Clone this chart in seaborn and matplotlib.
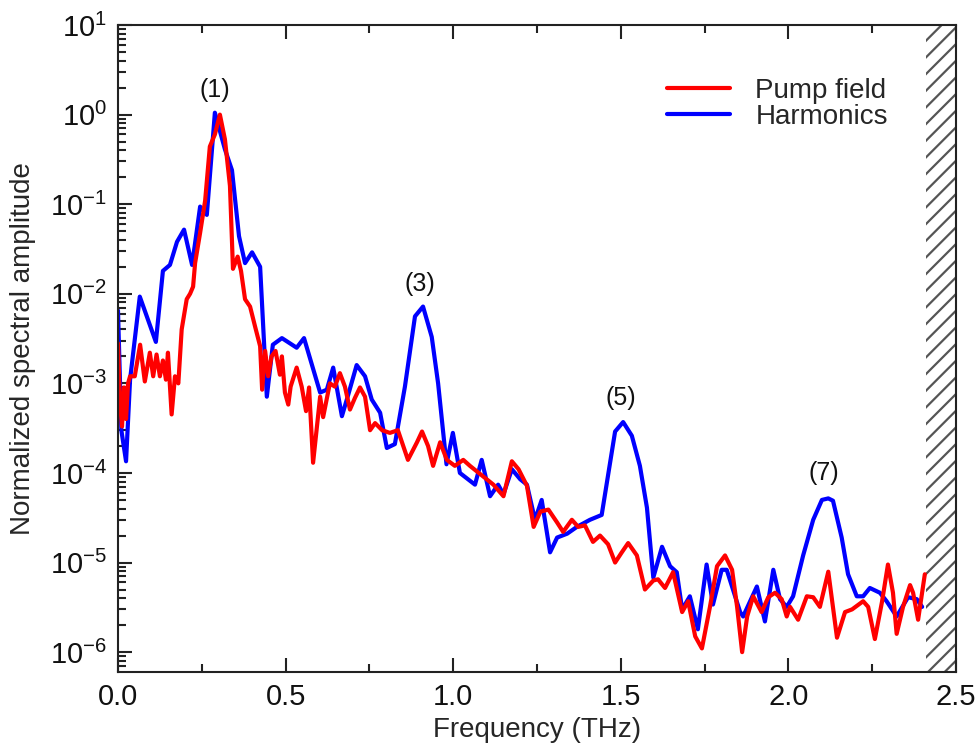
import matplotlib
matplotlib.use("Agg")
import matplotlib.pyplot as plt
import seaborn as sns
import pandas as pd
import numpy as np
from matplotlib.ticker import MultipleLocator, NullFormatter, FixedLocator
from matplotlib.lines import Line2D

# ---- data ----
harm_freq = [0.0, 0.01, 0.024, 0.036, 0.065, 0.113, 0.134, 0.155, 0.176, 0.197, 0.221,
             0.245, 0.265, 0.289, 0.319, 0.34, 0.361, 0.379, 0.4, 0.424, 0.444, 0.462,
             0.489, 0.533, 0.555, 0.603, 0.623, 0.642, 0.668, 0.687, 0.712, 0.737,
             0.757, 0.782, 0.802, 0.826, 0.856, 0.886, 0.91, 0.936, 0.955, 0.98, 0.999,
             1.02, 1.065, 1.085, 1.11, 1.134, 1.15, 1.175, 1.2, 1.22, 1.244, 1.264,
             1.289, 1.31, 1.34, 1.369, 1.408, 1.443, 1.483, 1.507, 1.533, 1.557, 1.578,
             1.597, 1.623, 1.647, 1.667, 1.683, 1.706, 1.73, 1.756, 1.775, 1.801, 1.816,
             1.856, 1.865, 1.906, 1.93, 1.955, 1.975, 1.995, 2.014, 2.044, 2.074, 2.1,
             2.119, 2.133, 2.159, 2.178, 2.204, 2.223, 2.243, 2.273, 2.293, 2.323,
             2.357, 2.383, 2.399]
harm_amp = [6.5e-3, 3.0e-4, 1.35e-4, 1.1e-3, 9.3e-3, 2.9e-3, 1.8e-2, 2.1e-2, 3.8e-2, 5.2e-2, 2.1e-2,
            9.4e-2, 7.6e-2, 1.05, 0.41, 0.24, 0.044, 0.022, 0.029, 0.02, 7.1e-4, 2.7e-3,
            3.2e-3, 2.5e-3, 3.2e-3, 7.9e-4, 8.5e-4, 1.5e-3, 4.3e-4, 7.5e-4, 1.6e-3, 1.2e-3,
            6.6e-4, 4.7e-4, 1.9e-4, 2.1e-4, 9.2e-4, 5.6e-3, 7.2e-3, 3.3e-3, 1.0e-3, 1.25e-4, 2.8e-4,
            1.0e-4, 7.4e-5, 1.4e-4, 5.5e-5, 7.4e-5, 5.8e-5, 1.1e-4, 8.5e-5, 7.4e-5, 3.0e-5, 5.0e-5,
            1.3e-5, 1.9e-5, 2.1e-5, 2.5e-5, 3.0e-5, 3.4e-5, 2.9e-4, 3.7e-4, 2.6e-4, 1.2e-4, 4.1e-5,
            6.8e-6, 1.5e-5, 9.1e-6, 7.8e-6, 3.0e-6, 4.2e-6, 1.8e-6, 9.5e-6, 3.4e-6, 8.3e-6, 8.3e-6,
            2.8e-6, 2.5e-6, 5.4e-6, 2.2e-6, 8.3e-6, 3.9e-6, 3.2e-6, 4.2e-6, 1.2e-5, 3.0e-5, 5.0e-5,
            5.2e-5, 4.9e-5, 1.9e-5, 7.4e-6, 4.2e-6, 4.2e-6, 5.2e-6, 4.6e-6, 3.7e-6, 2.5e-6,
            4.1e-6, 3.9e-6, 3.2e-6]

pump_freq = [0.0, 0.006, 0.012, 0.018, 0.024, 0.03, 0.036, 0.05, 0.066, 0.08, 0.095, 0.105,
             0.115, 0.125, 0.134, 0.143, 0.149, 0.16, 0.17, 0.18, 0.19, 0.205, 0.215, 0.224,
             0.23, 0.245, 0.26, 0.274, 0.289, 0.304, 0.319, 0.334, 0.343, 0.357, 0.367,
             0.379, 0.394, 0.409, 0.424, 0.43, 0.439, 0.448, 0.458, 0.47, 0.483, 0.489,
             0.498, 0.508, 0.515, 0.533, 0.548, 0.561, 0.57, 0.582, 0.603, 0.612, 0.632,
             0.647, 0.662, 0.677, 0.692, 0.707, 0.722, 0.737, 0.752, 0.767, 0.788, 0.811,
             0.835, 0.865, 0.892, 0.907, 0.925, 0.94, 0.961, 0.981, 1.005, 1.03, 1.05,
             1.09, 1.12, 1.15, 1.175, 1.195, 1.22, 1.24, 1.26, 1.284, 1.31, 1.328, 1.354,
             1.373, 1.393, 1.417, 1.438, 1.462, 1.483, 1.503, 1.522, 1.548, 1.572, 1.597,
             1.611, 1.632, 1.656, 1.683, 1.701, 1.722, 1.742, 1.766, 1.787, 1.811, 1.832,
             1.847, 1.862, 1.877, 1.895, 1.92, 1.94, 1.96, 1.98, 1.995, 2.005, 2.029,
             2.055, 2.074, 2.094, 2.119, 2.145, 2.169, 2.19, 2.223, 2.238, 2.258, 2.279,
             2.297, 2.312, 2.323, 2.342, 2.363, 2.372, 2.387, 2.407]
pump_amp = [2.8e-3, 6.0e-4, 3.3e-4, 9.0e-4, 4.0e-4, 1.0e-3, 1.2e-3, 1.2e-3, 2.7e-3, 1.05e-3, 2.2e-3, 1.2e-3,
            2.1e-3, 1.2e-3, 1.8e-3, 1.1e-3, 2.2e-3, 4.5e-4, 1.2e-3, 1.0e-3, 4.0e-3, 8.7e-3, 1.0e-2, 1.2e-2,
            2.2e-2, 4.8e-2, 0.11, 0.44, 0.6, 1.0, 0.53, 0.16, 0.019, 0.026, 0.018,
            8.7e-3, 7.2e-3, 4.3e-3, 2.6e-3, 8.5e-4, 2.3e-3, 1.2e-3, 2.0e-3, 2.3e-3, 1.25e-3, 2.0e-3,
            7.9e-4, 5.8e-4, 9.2e-4, 1.5e-3, 9.2e-4, 4.9e-4, 9.0e-4, 1.3e-4, 7.1e-4, 4.2e-4, 1.0e-3,
            9.2e-4, 1.3e-3, 9.2e-4, 5.1e-4, 6.9e-4, 9.0e-4, 7.1e-4, 3.0e-4, 3.6e-4, 3.0e-4, 2.8e-4,
            3.0e-4, 1.4e-4, 2.2e-4, 2.9e-4, 2.0e-4, 1.2e-4, 2.2e-4, 1.4e-4, 1.2e-4, 1.4e-4, 1.2e-4,
            9.1e-5, 7.4e-5, 5.5e-5, 1.35e-4, 1.1e-4, 7.2e-5, 2.5e-5, 3.7e-5, 3.9e-5, 2.8e-5, 2.2e-5, 3.0e-5,
            2.5e-5, 2.6e-5, 1.7e-5, 2.0e-5, 1.6e-5, 1.0e-5, 1.3e-5, 1.65e-5, 1.2e-5, 5.0e-6, 6.3e-6,
            6.5e-6, 5.2e-6, 7.8e-6, 2.8e-6, 3.7e-6, 1.5e-6, 1.1e-6, 3.2e-6, 9.1e-6, 1.2e-5, 8.3e-6,
            3.2e-6, 1.0e-6, 2.5e-6, 4.2e-6, 2.8e-6, 4.1e-6, 4.6e-6, 3.9e-6, 2.5e-6, 3.2e-6, 2.3e-6,
            4.2e-6, 4.1e-6, 3.2e-6, 7.9e-6, 1.45e-6, 2.8e-6, 3.0e-6, 3.7e-6, 3.2e-6, 1.4e-6, 3.6e-6,
            9.5e-6, 4.6e-6, 1.6e-6, 3.2e-6, 5.6e-6, 4.6e-6, 2.3e-6, 7.4e-6]

series_names = ["Pump field", "Harmonics"]
series_colors = ["#ff0000", "#0000ff"]

peak_labels = ["(1)", "(3)", "(5)", "(7)"]
peak_label_x = [0.29, 0.90, 1.50, 2.106]
peak_label_y = [1.9, 1.3e-2, 6.9e-4, 1.0e-4]

y_major_ticks = [1e-6, 1e-5, 1e-4, 1e-3, 1e-2, 1e-1, 1e0, 1e1]

# ---- styling ----
sns.set_style("ticks")
plt.rcParams["font.family"] = ["Liberation Sans", "DejaVu Sans"]
plt.rcParams["mathtext.fontset"] = "custom"
plt.rcParams["mathtext.rm"] = "Liberation Sans"
plt.rcParams["mathtext.it"] = "Liberation Sans:italic"
plt.rcParams["hatch.linewidth"] = 1.6
plt.rcParams["hatch.color"] = "#555555"

df = pd.concat([
    pd.DataFrame({"freq": harm_freq, "amp": harm_amp, "series": series_names[1]}),
    pd.DataFrame({"freq": pump_freq, "amp": pump_amp, "series": series_names[0]}),
], ignore_index=True)

fig = plt.figure(figsize=(9.76, 7.47), dpi=100)
ax = fig.add_axes([0.1209, 0.1004, 0.8586, 0.8661])

palette = dict(zip(series_names, series_colors))
sns.lineplot(data=df, x="freq", y="amp", hue="series", palette=palette,
             hue_order=[series_names[1], series_names[0]], sort=False,
             estimator=None, linewidth=3.0, ax=ax, legend=False)

ax.set_yscale("log")
ax.set_xlim(0, 2.5)
ax.set_ylim(6.0e-7, 10)

# hatched region
ax.axvspan(2.41, 2.5, facecolor="none", edgecolor="#555555", hatch="//", linewidth=0, zorder=0.5)

# ticks
ax.xaxis.set_major_locator(MultipleLocator(0.5))
ax.xaxis.set_minor_locator(MultipleLocator(0.25))
ax.xaxis.set_major_formatter(matplotlib.ticker.FormatStrFormatter("%.1f"))
ax.yaxis.set_major_locator(FixedLocator(y_major_ticks))
ax.yaxis.set_major_formatter(matplotlib.ticker.LogFormatterSciNotation())
minor = [m * d for d in y_major_ticks for m in range(2, 10) if 6.0e-7 < m * d < 10]
minor += [7e-7, 8e-7, 9e-7]
ax.yaxis.set_minor_locator(FixedLocator(minor))
ax.yaxis.set_minor_formatter(NullFormatter())
ax.tick_params(which="both", direction="in", top=True, right=False, labelsize=21,
               width=1.5, color="#222222", labelcolor="#111111")
ax.tick_params(which="major", length=10, pad=8)
ax.tick_params(which="minor", length=6)
for s in ax.spines.values():
    s.set_linewidth(1.5)
    s.set_color("#222222")

ax.set_xlabel("Frequency (THz)", fontsize=20, labelpad=4)
ax.set_ylabel("Normalized spectral amplitude", fontsize=20, labelpad=10)

for t, x, y in zip(peak_labels, peak_label_x, peak_label_y):
    ax.text(x, y, t, fontsize=18, ha="center", va="center", color="#111111")

# legend in reference order
handles = [Line2D([0], [0], color=c, lw=3.0) for c in series_colors]
ax.legend(handles, series_names, loc="upper right", bbox_to_anchor=(0.932, 0.935),
          frameon=False, fontsize=20, handlelength=2.3, handletextpad=0.9,
          labelspacing=0.0, borderaxespad=0)

fig.savefig("out.png", dpi=100)
